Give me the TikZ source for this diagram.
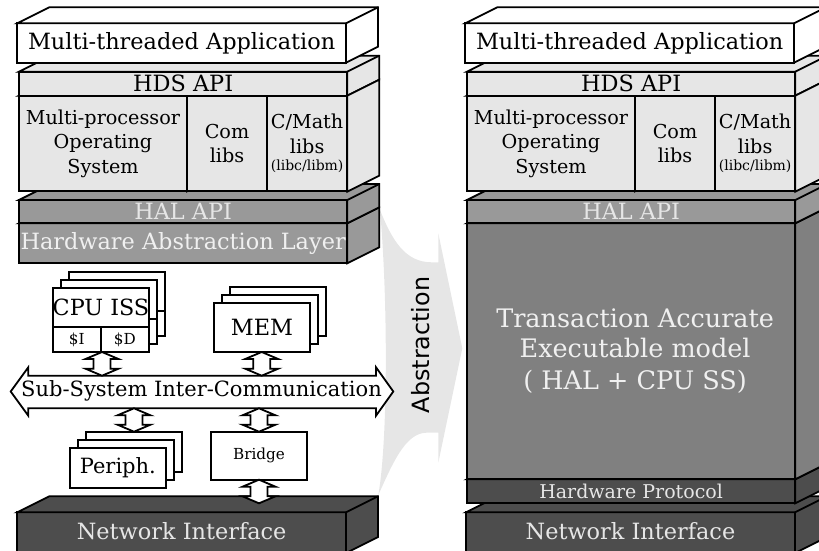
\documentclass[tikz,border=0pt]{standalone}
\usepackage{fontspec}
\setmainfont{DejaVu Serif}
\newfontfamily\absfont{DejaVu Sans}
\usetikzlibrary{calc}
\definecolor{lgray}{HTML}{E6E6E6}
\definecolor{mgray}{HTML}{999999}
\definecolor{tgray}{HTML}{808080}
\definecolor{dgray}{HTML}{4D4D4D}
\definecolor{ltext}{HTML}{F0F0F0}
\tikzset{
  x=1pt,y=-1pt,
  edge/.style={draw=black,line width=1.8pt,line join=miter},
  front/.style={edge,inner sep=0pt,outer sep=0pt,align=center},
  compbox/.style={front,fill=white},
  biarrow/.style={edge,fill=white},
}
\newcommand{\fsA}{\fontsize{22.4}{26}\selectfont}
\newcommand{\fsB}{\fontsize{19.2}{24.5}\selectfont}
\newcommand{\fsC}{\fontsize{15.2}{18}\selectfont}
\newcommand{\fsD}{\fontsize{25.5}{32}\selectfont}
% name, x1,y1,x2,y2, fill, text colour, font, text
\newcommand{\cuboid}[9]{%
  \node[front,fill=#6,text=#7,font=#8,anchor=north west,
    minimum width=#4pt-#2pt,minimum height=#5pt-#3pt] (#1) at (#2,#3) {#9};
  \draw[edge,fill=#6] (#1.north west) -- ++(32,-16) -- ++(#4-#2,0) -- ++(0,#5-#3) -- (#1.south east) -- (#1.north east) -- cycle;
  \draw[edge] (#1.north east) -- ++(32,-16);
}
% vertical double arrow between two named anchors at x
\newcommand{\vbi}[3]{%
  \draw[biarrow] let \p1=(#2),\p2=(#3) in
    (#1pt,\y1) -- (#1pt+16.5pt,\y1-7pt) -- (#1pt+8.5pt,\y1-7pt) -- (#1pt+8.5pt,\y2+7pt) -- (#1pt+16.5pt,\y2+7pt)
    -- (#1pt,\y2) -- (#1pt-16.5pt,\y2+7pt) -- (#1pt-8.5pt,\y2+7pt) -- (#1pt-8.5pt,\y1-7pt) -- (#1pt-16.5pt,\y1-7pt) -- cycle;
}
% one column of the software stack
\newcommand{\softstack}[2]{%
  \begin{scope}[xshift=#1pt]
  \cuboid{hal#2}{19}{200}{347.3}{223.3}{mgray}{lgray}{\fsA}{HAL API}
  \cuboid{os#2}{19}{95.7}{187}{191.3}{lgray}{black}{\fsB}{Multi-processor\\Operating\\System}
  \cuboid{hds#2}{19}{71.7}{347.3}{95.7}{lgray}{black}{\fsA}{HDS API}
  \draw[edge,fill=lgray] (hds#2.south east) -- ++(32,-16) -- ++(0,96) -- ++(-32,16) -- cycle;
  \node[front,fill=lgray,font=\fsB,minimum width=80pt,minimum height=95.6pt,anchor=north west] (com#2) at (187,95.7) {Com\\libs};
  \node[front,fill=lgray,font=\fsB,minimum width=80.3pt,minimum height=95.6pt,anchor=north west] (cm#2) at (267,95.7) {C/Math\\libs\\[-7pt]{\fontsize{14}{14}\selectfont(libc/libm)}};
  \cuboid{app#2}{17.3}{23.3}{346}{62.7}{white}{black}{\fsA}{Multi-threaded Application}
  \end{scope}
}
\begin{document}
\begin{tikzpicture}
\useasboundingbox (0,0) rectangle (819,551);
\clip (0,0) rectangle (819,551);
% abstraction arrow
\fill[lgray] (380,210) .. controls (392,240) and (405,262.3) .. (431.7,262.3) -- (438.3,262.3) -- (438.3,233.3) -- (462.3,348.3)
  -- (438.3,462.7) -- (438.3,432.7) -- (426.7,432.7) .. controls (405,432.7) and (392,465) .. (378.3,495)
  .. controls (388,440) and (388,300) .. (380,210) -- cycle;
\node[font=\absfont\fontsize{23.8}{24}\selectfont,rotate=90,inner sep=0pt] (abs) at (421,345) {Abstraction};
% left column
\cuboid{netL}{17.3}{512.3}{346}{553}{dgray}{lgray}{\fsA}{\raisebox{4pt}{Network Interface}}
\cuboid{hwl}{19}{223.3}{347.3}{263.3}{mgray}{ltext}{\fsA}{Hardware Abstraction Layer}
\softstack{0}{L}
% right column
\cuboid{netR}{466}{512.3}{795}{553}{dgray}{lgray}{\fsA}{\raisebox{4pt}{Network Interface}}
\cuboid{hwp}{467}{479.3}{795.3}{503.3}{dgray}{lgray}{\fontsize{19}{22}\selectfont}{Hardware Protocol}
\cuboid{tam}{467}{223.3}{795.3}{479.3}{tgray}{ltext}{\fsD}{\raisebox{-1.5pt}{\hspace{8pt}Transaction Accurate}\\\hspace{8pt}Executable model\\\hspace{8pt}( HAL + CPU SS)}
\softstack{448}{R}
% CPU stack
\foreach \d in {16,8}{
  \draw[edge,fill=white] (52.7+\d,287.7-\d) rectangle (149+\d,327.3-\d);
  \draw[edge,fill=white] (52.7+\d,327.3-\d) rectangle (149+\d,352-\d);
}
\node[compbox,font=\fontsize{22.3}{26}\selectfont,anchor=north west,minimum width=96.3pt,minimum height=39.6pt] (cpu) at (52.7,287.7) {CPU ISS};
\node[compbox,font=\fsC,anchor=north west,minimum width=48pt,minimum height=24.7pt] (ci) at (52.7,327.3) {\$I};
\node[compbox,font=\fsC,anchor=north west,minimum width=48.3pt,minimum height=24.7pt] (cd) at (100.7,327.3) {\$D};
% MEM stack
\foreach \d in {16,8}{\draw[edge,fill=white] (213.7+\d,303.3-\d) rectangle (310.3+\d,352-\d);}
\node[compbox,font=\fsA,anchor=north west,minimum width=96.6pt,minimum height=48.7pt] (mem) at (213.7,303.3) {MEM};
% Periph stack
\foreach \d in {16,8}{\draw[edge,fill=white] (69.7+\d,447.7-\d) rectangle (166+\d,487.7-\d);}
\node[compbox,font=\fontsize{21}{26}\selectfont,anchor=north west,minimum width=96.3pt,minimum height=40pt] (per) at (69.7,447.7) {Periph.};
\coordinate (perTop) at (134,431.7);
% Bridge
\node[compbox,font=\fsC,anchor=north west,minimum width=96pt,minimum height=48pt] (bri) at (211,431.7) {Bridge};
% Bus
\coordinate (busT) at (201,375.7);
\coordinate (busB) at (201,408.3);
\draw[edge,fill=white] (10.7,391.5) -- (28.3,367.3) -- (28.3,375.7) -- (376,375.7) -- (376,367.3) -- (393.3,391.5) -- (376,415.7) -- (376,408.3) -- (28.3,408.3) -- (28.3,415.7) -- cycle;
\node[font=\fontsize{21}{26}\selectfont,inner sep=0pt] (bus) at (201.5,390.5) {Sub-System Inter-Communication};
% connectors
\vbi{102}{ci.south east}{busT}
\vbi{261.7}{mem.south}{busT}
\vbi{134}{busB}{perTop}
\vbi{259}{busB}{bri.north}
\coordinate (netPort) at (259,503.3);
\vbi{259}{bri.south}{netPort}
\end{tikzpicture}
\end{document}
